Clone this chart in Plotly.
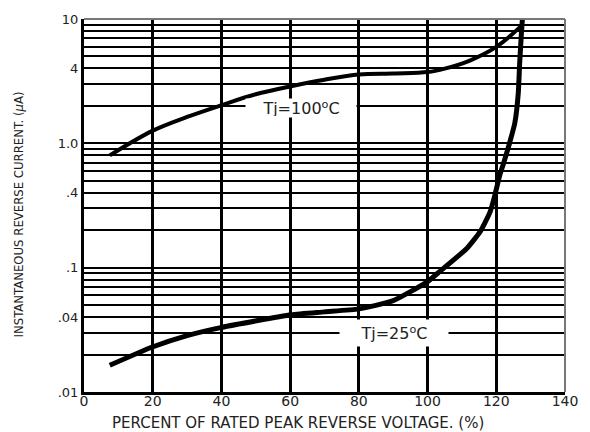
import plotly.graph_objects as go
import math

# Tj = 100 C curve
x_100 = [7.5, 19.9, 30, 40.1, 50, 60.3, 70, 80, 90, 100, 105, 112.3, 120.1, 127.3]
y_100 = [0.80, 1.26, 1.63, 2.03, 2.48, 2.88, 3.25, 3.58, 3.65, 3.74, 3.99, 4.63, 5.99, 8.8]

# Tj = 25 C curve
x_25 = [7.5, 19.9, 30, 40.1, 60.3, 70, 80, 89.8, 99.9, 103.6, 111.4, 115.3, 118.2,
        119.6, 121.0, 122.2, 123.9, 125.4, 126.4, 126.8, 127.3, 127.6]
y_25 = [0.0164, 0.0230, 0.0284, 0.0331, 0.0418, 0.0441, 0.0466, 0.054, 0.0769, 0.0935,
        0.1426, 0.1946, 0.281, 0.3835, 0.553, 0.702, 1.012, 1.46, 2.53, 4.38, 7.6, 10.0]

x_ticks = [0, 20, 40, 60, 80, 100, 120, 140]
y_ticks = [0.01, 0.04, 0.1, 0.4, 1, 4, 10]
y_ticktext = [".01", ".04", ".1", ".4", "1.0", "4", "10"]
y_minor = [m * 10 ** e for e in (-2, -1, 0) for m in (2, 3, 5, 6, 7, 8, 9)]

x_title = "PERCENT OF RATED PEAK REVERSE VOLTAGE. (%)"
y_title = "INSTANTANEOUS REVERSE CURRENT. (<i>μ</i>A)"
label_100 = "Tj=100<sup>o</sup>C"
label_25 = "Tj=25<sup>o</sup>C"

fig = go.Figure()
fig.add_trace(go.Scatter(x=x_100, y=y_100, mode="lines",
                         line=dict(color="black", width=4, shape="spline", smoothing=1.0),
                         showlegend=False, hoverinfo="skip"))
fig.add_trace(go.Scatter(x=x_25, y=y_25, mode="lines",
                         line=dict(color="black", width=5, shape="spline", smoothing=0.5),
                         showlegend=False, hoverinfo="skip"))

tick_font = dict(family="DejaVu Sans, Arial, sans-serif", size=14, color="#222")

fig.update_xaxes(range=[0, 140], tickvals=x_ticks, ticktext=[str(v) for v in x_ticks],
                 showgrid=True, gridcolor="black", gridwidth=3,
                 showline=True, linecolor="black", linewidth=3,
                 zeroline=False, ticks="", tickfont=tick_font, ticklabelstandoff=-6)
fig.update_yaxes(type="log", range=[-2, 1], tickvals=y_ticks, ticktext=y_ticktext,
                 showgrid=True, gridcolor="black", gridwidth=2,
                 minor=dict(tickmode="array", tickvals=y_minor, showgrid=True,
                            gridcolor="black", gridwidth=2, ticks=""),
                 showline=True, linecolor="black", linewidth=3,
                 zeroline=False, ticks="", tickfont=dict(family="DejaVu Sans, Arial, sans-serif",
                                                         size=13, color="#222"))

# top and right frame
fig.add_shape(type="line", xref="x domain", yref="y domain", x0=0, x1=1, y0=1, y1=1,
              line=dict(color="#777", width=2))
fig.add_shape(type="line", xref="x domain", yref="y domain", x0=1, x1=1, y0=0, y1=1,
              line=dict(color="#777", width=2))

# axis titles
fig.add_annotation(xref="paper", yref="paper", x=0.445, y=-0.084, text=x_title,
                   showarrow=False, xanchor="center", yanchor="middle",
                   font=dict(family="DejaVu Sans, Arial, sans-serif", size=15, color="#222"))
fig.add_annotation(xref="paper", yref="paper", x=-0.136, y=0.475, text=y_title,
                   showarrow=False, xanchor="center", yanchor="middle", textangle=-90,
                   font=dict(family="Liberation Sans Narrow, DejaVu Sans Condensed, Arial, sans-serif",
                             size=13, color="#222"))

ann_font = dict(family="DejaVu Sans, Arial, sans-serif", size=16, color="#222")
fig.add_annotation(x=63.1, y=math.log10(1.92), text=label_100, showarrow=False,
                   bgcolor="white", width=108, height=16, font=ann_font)
fig.add_annotation(x=90.1, y=math.log10(0.0298), text=label_25, showarrow=False,
                   bgcolor="white", width=106, height=24, font=ann_font)

fig.update_layout(width=590, height=432, margin=dict(l=84, r=21, t=15, b=40),
                  plot_bgcolor="white", paper_bgcolor="white")

fig.write_html("out.html")
